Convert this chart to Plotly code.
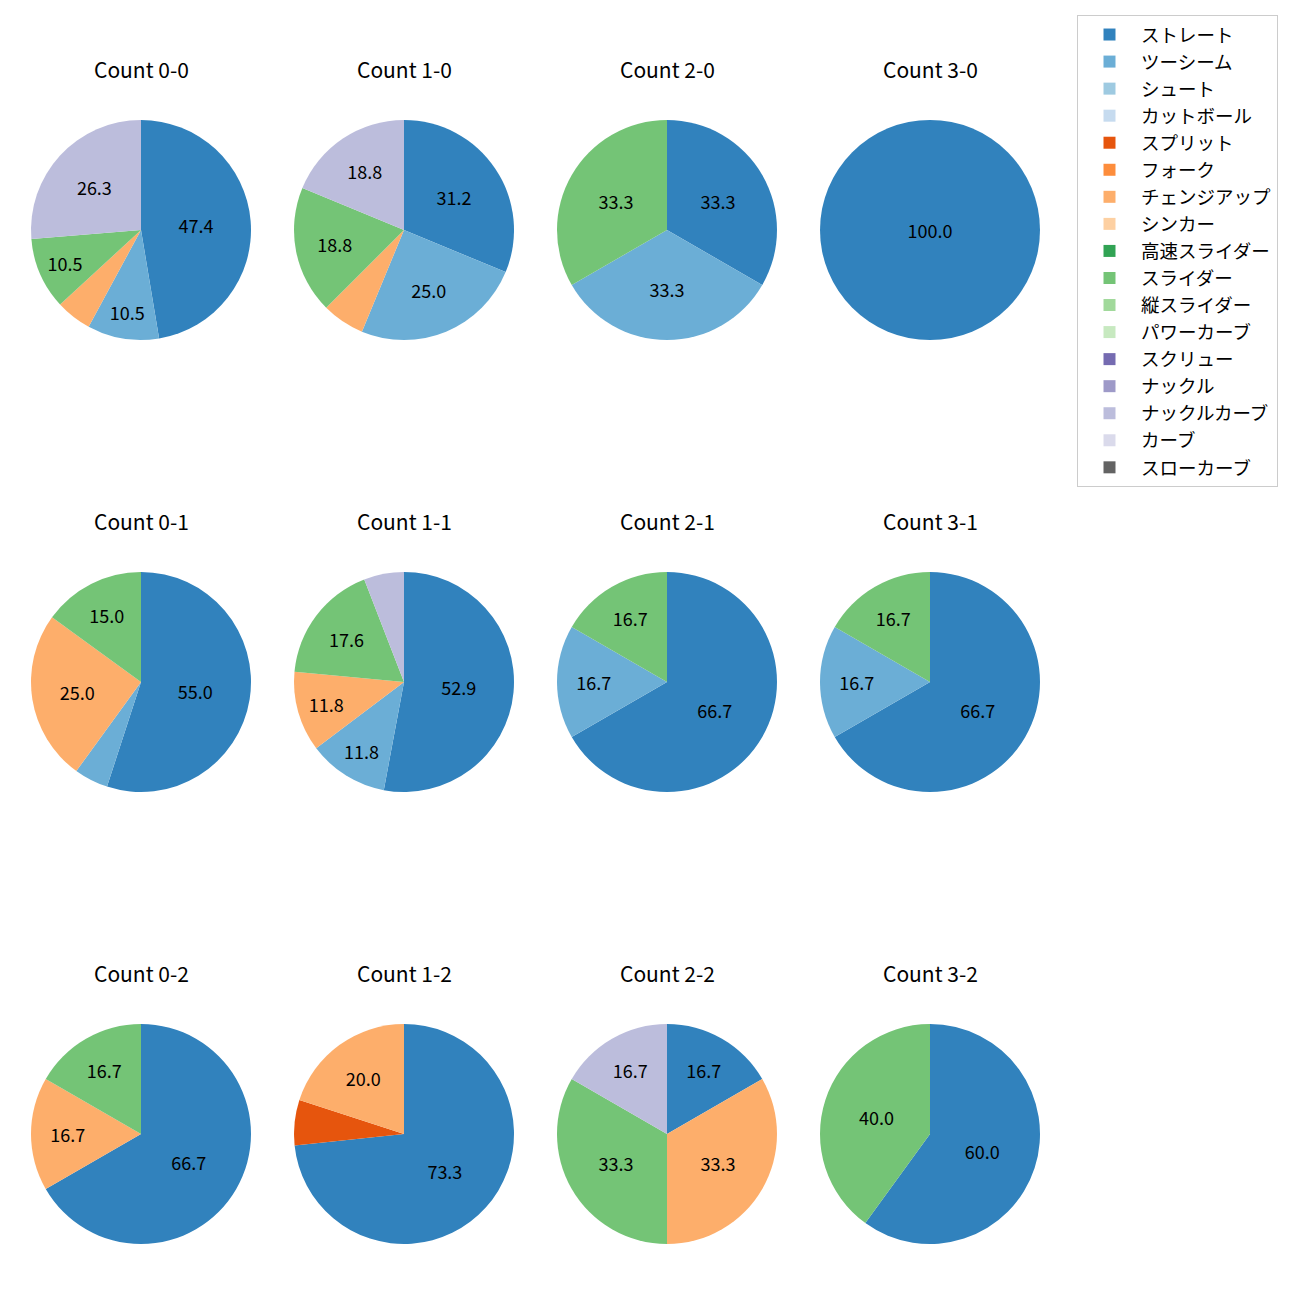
import plotly.graph_objects as go

pitch_types = ["ストレート", "ツーシーム", "シュート", "カットボール", "スプリット", "フォーク",
               "チェンジアップ", "シンカー", "高速スライダー", "スライダー", "縦スライダー",
               "パワーカーブ", "スクリュー", "ナックル", "ナックルカーブ", "カーブ", "スローカーブ"]
colors = ["#3182bd", "#6baed6", "#9ecae1", "#c6dbef", "#e6550d", "#fd8d3c", "#fdae6b", "#fdd0a2",
          "#31a354", "#74c476", "#a1d99b", "#c7e9c0", "#756bb1", "#9e9ac8", "#bcbddc", "#dadaeb", "#636363"]

counts = ["0-0", "1-0", "2-0", "3-0",
          "0-1", "1-1", "2-1", "3-1",
          "0-2", "1-2", "2-2", "3-2"]

# pitch counts per ball-strike count (order follows pitch_types)
pitch_counts = {
    "0-0": {"ストレート": 9, "ツーシーム": 2, "チェンジアップ": 1, "スライダー": 2, "ナックルカーブ": 5},
    "1-0": {"ストレート": 5, "ツーシーム": 4, "チェンジアップ": 1, "スライダー": 3, "ナックルカーブ": 3},
    "2-0": {"ストレート": 1, "ツーシーム": 1, "スライダー": 1},
    "3-0": {"ストレート": 1},
    "0-1": {"ストレート": 11, "ツーシーム": 1, "チェンジアップ": 5, "スライダー": 3},
    "1-1": {"ストレート": 9, "ツーシーム": 2, "チェンジアップ": 2, "スライダー": 3, "ナックルカーブ": 1},
    "2-1": {"ストレート": 4, "ツーシーム": 1, "スライダー": 1},
    "3-1": {"ストレート": 4, "ツーシーム": 1, "スライダー": 1},
    "0-2": {"ストレート": 4, "チェンジアップ": 1, "スライダー": 1},
    "1-2": {"ストレート": 11, "スプリット": 1, "チェンジアップ": 3},
    "2-2": {"ストレート": 1, "チェンジアップ": 2, "スライダー": 2, "ナックルカーブ": 1},
    "3-2": {"ストレート": 3, "スライダー": 2},
}

W = H = 1300
OFF = 8  # page body margin
col_cx = [141 - OFF, 404 - OFF, 667 - OFF, 930 - OFF]
row_cy = [230 - OFF, 682 - OFF, 1134 - OFF]
R = 110
FONT = "Noto Sans CJK JP, Noto Sans, sans-serif"

fig = go.Figure()
annotations = []
for i, c in enumerate(counts):
    r, k = divmod(i, 4)
    cx, cy = col_cx[k], row_cy[r]
    d = pitch_counts[c]
    vals = [d.get(p, 0) for p in pitch_types]
    tot = sum(vals)
    texts = [f"{v / tot * 100:.1f}" if v / tot * 100 >= 10 else "" for v in vals]
    fig.add_trace(go.Pie(
        labels=pitch_types, values=vals, text=texts,
        textinfo="text", textposition="inside", insidetextorientation="horizontal",
        textfont=dict(size=18, color="black", family=FONT),
        marker=dict(colors=colors, line=dict(width=0)),
        sort=False, direction="clockwise", rotation=0,
        hoverinfo="label+percent",
        domain=dict(x=[(cx - R) / W, (cx + R) / W], y=[1 - (cy + R) / H, 1 - (cy - R) / H]),
        showlegend=True,
    ))
    annotations.append(dict(
        text=f"Count {c}", x=cx / W, y=1 - (cy - 161) / H, xref="paper", yref="paper",
        showarrow=False, font=dict(size=21, family=FONT, color="black"),
        xanchor="center", yanchor="middle"))

fig.update_layout(
    width=W, height=H, margin=dict(l=0, r=0, t=0, b=0),
    paper_bgcolor="white", plot_bgcolor="white",
    font=dict(family=FONT, color="black"),
    annotations=annotations,
    uniformtext=dict(minsize=18, mode="show"),
    legend=dict(x=(1077 - OFF) / W, y=1 - (15 - OFF) / H, xanchor="left", yanchor="top",
                bordercolor="#cccccc", borderwidth=1, bgcolor="white", itemwidth=53,
                font=dict(size=18.5, family=FONT), traceorder="normal"),
)
fig.write_html("out.html")
